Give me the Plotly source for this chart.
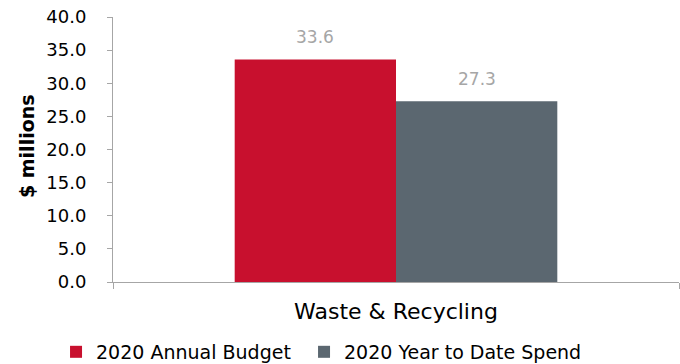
import plotly.graph_objects as go

categories = ["Waste & Recycling"]
series_names = ["2020 Annual Budget", "2020 Year to Date Spend"]
budget = [33.6]
spend = [27.3]
colors = ["#C8102E", "#5B6770"]
y_ticks = [0, 5, 10, 15, 20, 25, 30, 35, 40]

FONT = "DejaVu Sans, Liberation Sans, Arial, sans-serif"
legend_widths = [203, 260]

fig = go.Figure()
for name, vals, col, lw in zip(series_names, [budget, spend], colors, legend_widths):
    fig.add_trace(go.Bar(
        x=categories, y=vals, name=name, marker=dict(color=col, line=dict(width=0)),
        legendwidth=lw, hoverinfo="skip",
    ))

# data labels
for i, vals in enumerate([budget, spend]):
    for c, v in zip(categories, vals):
        fig.add_annotation(
            x=c, y=v, text=f"{v:.1f}", showarrow=False,
            xshift=(-81 if i == 0 else 81), yshift=22,
            font=dict(family=FONT, size=17, color="#A6A6A6"),
        )

# y axis title
fig.add_annotation(
    text="<b>$ millions</b>", xref="paper", yref="paper", x=-0.152, y=0.513,
    xanchor="center", yanchor="middle", textangle=-90, showarrow=False,
    font=dict(family=FONT, size=19, color="#000000"),
)

fig.update_layout(
    width=680, height=364,
    margin=dict(l=113, r=1, t=17, b=82, autoexpand=False),
    paper_bgcolor="white", plot_bgcolor="white",
    barmode="group", bargap=0.43, bargroupgap=0,
    font=dict(family=FONT, size=17, color="#000000"),
    showlegend=True,
    legend=dict(
        orientation="h", xref="container", x=0.0824, xanchor="left",
        y=-0.264, yanchor="middle",
        font=dict(family=FONT, size=19, color="#000000"),
        itemwidth=30, traceorder="normal",
    ),
    xaxis=dict(
        automargin=False,
        showline=True, linecolor="#A6A6A6", linewidth=1,
        ticks="outside", tickson="boundaries", ticklen=6, tickcolor="#A6A6A6",
        ticklabelstandoff=10,
        showgrid=False, tickfont=dict(family=FONT, size=22, color="#000000"),
    ),
    yaxis=dict(
        automargin=False,
        range=[0, 40], tickvals=y_ticks, tickformat=".1f",
        showline=True, linecolor="#A6A6A6", linewidth=1,
        ticks="outside", ticklen=5, tickcolor="#A6A6A6",
        ticklabelstandoff=17,
        showgrid=False, zeroline=False,
        tickfont=dict(family=FONT, size=18, color="#000000"),
    ),
)

fig.write_html(
    "out.html",
    config={"displayModeBar": False},
    post_script="document.body.style.margin='0';",
)
